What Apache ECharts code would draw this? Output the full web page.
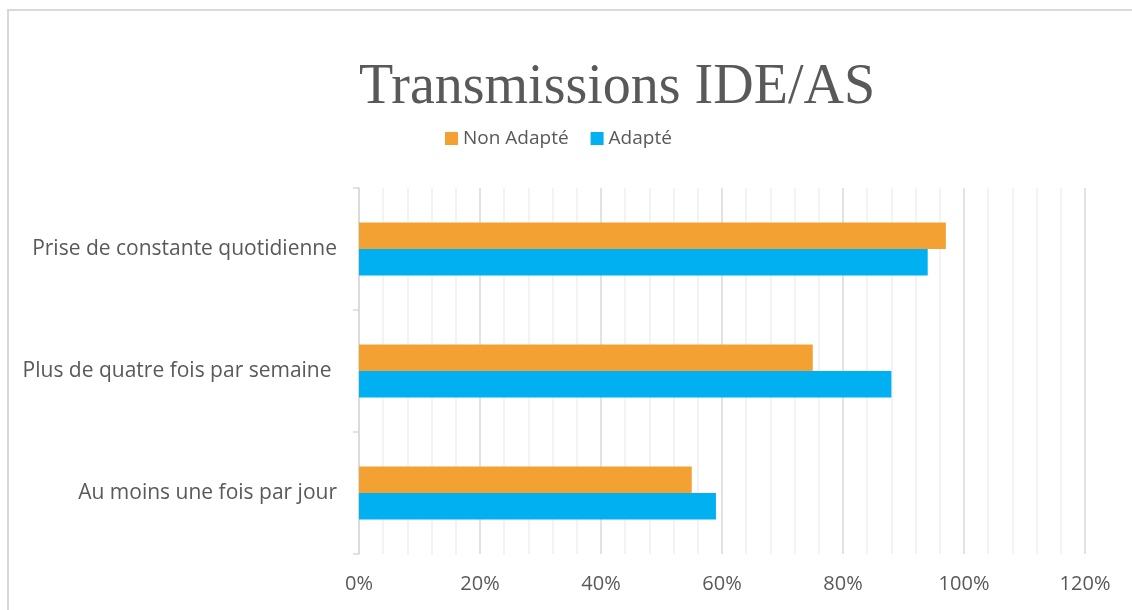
<!DOCTYPE html>
<html>
<head>
<meta charset="utf-8">
<script src="https://cdn.jsdelivr.net/npm/echarts@6/dist/echarts.min.js"></script>
<style>
  html, body { margin: 0; padding: 0; background: #fff; }
  #myChart { width: 1132px; height: 610px; }
</style>
</head>
<body>
<div id="myChart"></div>
<script>
  // catégories (du bas vers le haut)
  var categories = ['Au moins une fois par jour', 'Plus de quatre fois par semaine ', 'Prise de constante quotidienne'];
  var nonAdapte = [55, 75, 97];
  var adapte = [59, 88, 94];
  var legendNames = ['Non Adapté', 'Adapté'];

  var myChart = echarts.init(document.getElementById('myChart'));
  var option = {
    backgroundColor: '#fff',
    title: {
      text: 'Transmissions IDE/AS',
      left: 354,
      top: 55,
      textStyle: {
        fontFamily: 'Liberation Serif',
        fontSize: 56,
        fontWeight: 'normal',
        color: '#595959'
      }
    },
    legend: {
      data: legendNames,
      top: 124,
      left: 440,
      itemWidth: 13,
      itemHeight: 13,
      itemGap: 22,
      icon: 'rect',
      textStyle: { fontFamily: 'Open Sans', fontSize: 19, color: '#595959' }
    },
    graphic: [{
      type: 'rect',
      shape: { x: 8, y: 10, width: 1200, height: 700 },
      style: { fill: 'none', stroke: '#d9d9d9', lineWidth: 2 },
      silent: true
    }],
    grid: { left: 359, right: 47, top: 188, bottom: 56 },
    xAxis: {
      type: 'value',
      min: 0,
      max: 120,
      interval: 20,
      axisLine: { show: false },
      axisTick: { show: false },
      axisLabel: { formatter: '{value}%', fontFamily: 'Open Sans', fontSize: 20, color: '#595959', margin: 20 },
      splitLine: { show: true, lineStyle: { color: '#d9d9d9', width: 1.5 } },
      minorTick: { show: false, splitNumber: 5 },
      minorSplitLine: { show: true, lineStyle: { color: '#f0f0f0', width: 1.5 } }
    },
    yAxis: {
      type: 'category',
      data: categories,
      axisLine: { show: true, lineStyle: { color: '#d9d9d9', width: 1.5 } },
      axisTick: { show: true, length: 6, lineStyle: { color: '#d9d9d9', width: 1.5 } },
      axisLabel: { fontFamily: 'Open Sans', fontSize: 21, color: '#595959', margin: 22 }
    },
    series: [
      {
        name: 'Non Adapté',
        type: 'bar',
        data: nonAdapte,
        barWidth: 26.5,
        barGap: '0%',
        itemStyle: { color: '#F4A133' }
      },
      {
        name: 'Adapté',
        type: 'bar',
        data: adapte,
        barWidth: 26.5,
        barGap: '0%',
        itemStyle: { color: '#00B0F0' }
      }
    ]
  };
  myChart.setOption(option);
</script>
</body>
</html>
